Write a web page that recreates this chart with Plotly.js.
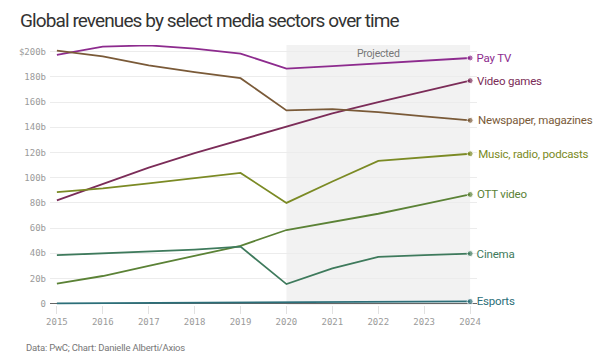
<!DOCTYPE html>
<html>
<head>
<meta charset="utf-8">
<script src="https://cdn.plot.ly/plotly-3.0.1.min.js"></script>
<style>
html,body{margin:0;padding:0;background:#fff}
#chart{width:600px;height:361px}
#chart .gtitle{letter-spacing:-0.9px}
#chart .annotation-text{letter-spacing:-0.2px}
</style>
</head>
<body>
<div id="chart"></div>
<script>
const years = [2015, 2016, 2017, 2018, 2019, 2020, 2021, 2022, 2023, 2024];
const seriesNames = ["Pay TV", "Video games", "Newspaper, magazines", "Music, radio, podcasts", "OTT video", "Cinema", "Esports"];
const payTV = [197.5, 204, 205, 202.5, 198.5, 186.5, 188.5, 190.8, 193, 195];
const videoGames = [82, 95, 108, 119.5, 130, 140.7, 151, 160, 168.5, 177];
const newspaper = [200.8, 196.3, 189.2, 183.7, 179, 153.4, 154.4, 152, 148.6, 145.5];
const music = [88.5, 91.5, 95.5, 99.5, 103.8, 80, 97, 113.3, 116.3, 119];
const ottVideo = [16, 22, 30, 38, 46, 58.5, 65, 71.4, 79, 86.7];
const cinema = [38.5, 40, 41.5, 43, 45.3, 15.6, 28, 37.2, 38.5, 39.8];
const esports = [0.3, 0.5, 0.7, 0.9, 1.1, 1.0, 1.2, 1.4, 1.6, 1.8];
const colors = ["#8d2b8e", "#7b2c58", "#7a5a38", "#7b8a24", "#5b8236", "#3e7a5c", "#2c6f79"];
const yTickVals = [0, 20, 40, 60, 80, 100, 120, 140, 160, 180, 200];
const yTickText = ["0", "20b", "40b", "60b", "80b", "100b", "120b", "140b", "160b", "180b", "$200b"];
const projectedStart = 2020, projectedEnd = 2024;

const sans = "Roboto, 'Noto Sans', sans-serif";
const mono = "'DejaVu Sans Mono', 'Liberation Mono', monospace";
const allSeries = [payTV, videoGames, newspaper, music, ottVideo, cinema, esports];
const last = years.length - 1;
const traces = allSeries.map((vals, i) => ({
  x: years, y: vals, type: "scatter", mode: "lines+markers", name: seriesNames[i],
  line: {color: colors[i], width: 1.8},
  marker: {color: colors[i], size: vals.map((v, j) => j === last ? 6 : 0)},
  hoverinfo: "skip"
}));

const labelAnns = allSeries.map((vals, i) => ({
  x: years[last], y: vals[last], xref: "x", yref: "y", text: seriesNames[i],
  showarrow: false, xanchor: "left", yanchor: "middle", xshift: 4,
  font: {family: sans, size: 11.5, color: colors[i]}
}));

const layout = {
  width: 600, height: 361,
  margin: {l: 50, r: 123, t: 45, b: 56},
  paper_bgcolor: "#fff", plot_bgcolor: "#fff",
  showlegend: false,
  title: {
    text: "Global revenues by select media sectors over time",
    x: 20/600, xanchor: "left", xref: "container",
    y: 1 - 20/361, yanchor: "middle", yref: "container",
    font: {family: sans, size: 19, color: "#333"}
  },
  xaxis: {
    range: [2014.85, 2024.15], tickvals: years, ticktext: years.map(String),
    showgrid: false, zeroline: false, showline: false,
    ticks: "outside", ticklen: 8, tickcolor: "#e2e2e2", tickwidth: 1,
    tickfont: {family: mono, size: 9, color: "#9a9a9a"}
  },
  yaxis: {
    range: [-1, 205.3], tickvals: yTickVals, ticktext: yTickText,
    showgrid: true, gridcolor: "#ececec", gridwidth: 1,
    zeroline: true, zerolinecolor: "#666", zerolinewidth: 1.5,
    showline: false, ticks: "", ticklabelstandoff: 3,
    tickfont: {family: mono, size: 9, color: "#9a9a9a"}
  },
  shapes: [{
    type: "rect", xref: "x", yref: "paper", x0: projectedStart, x1: projectedEnd, y0: 0, y1: 1,
    fillcolor: "#f2f2f2", line: {width: 0}, layer: "below"
  }],
  annotations: labelAnns.concat([
    {x: (projectedStart + projectedEnd) / 2, y: 1, xref: "x", yref: "paper", text: "Projected",
     showarrow: false, xanchor: "center", yanchor: "top", yshift: 0,
     font: {family: sans, size: 10.5, color: "#777"}},
    {x: -30/427, y: -(347 - 305)/260, xref: "paper", yref: "paper", text: "Data: PwC; Chart: Danielle Alberti/Axios",
     showarrow: false, xanchor: "left", yanchor: "middle",
     font: {family: sans, size: 9.5, color: "#777"}}
  ])
};

Plotly.newPlot("chart", traces, layout, {displayModeBar: false, staticPlot: true});
</script>
</body>
</html>
